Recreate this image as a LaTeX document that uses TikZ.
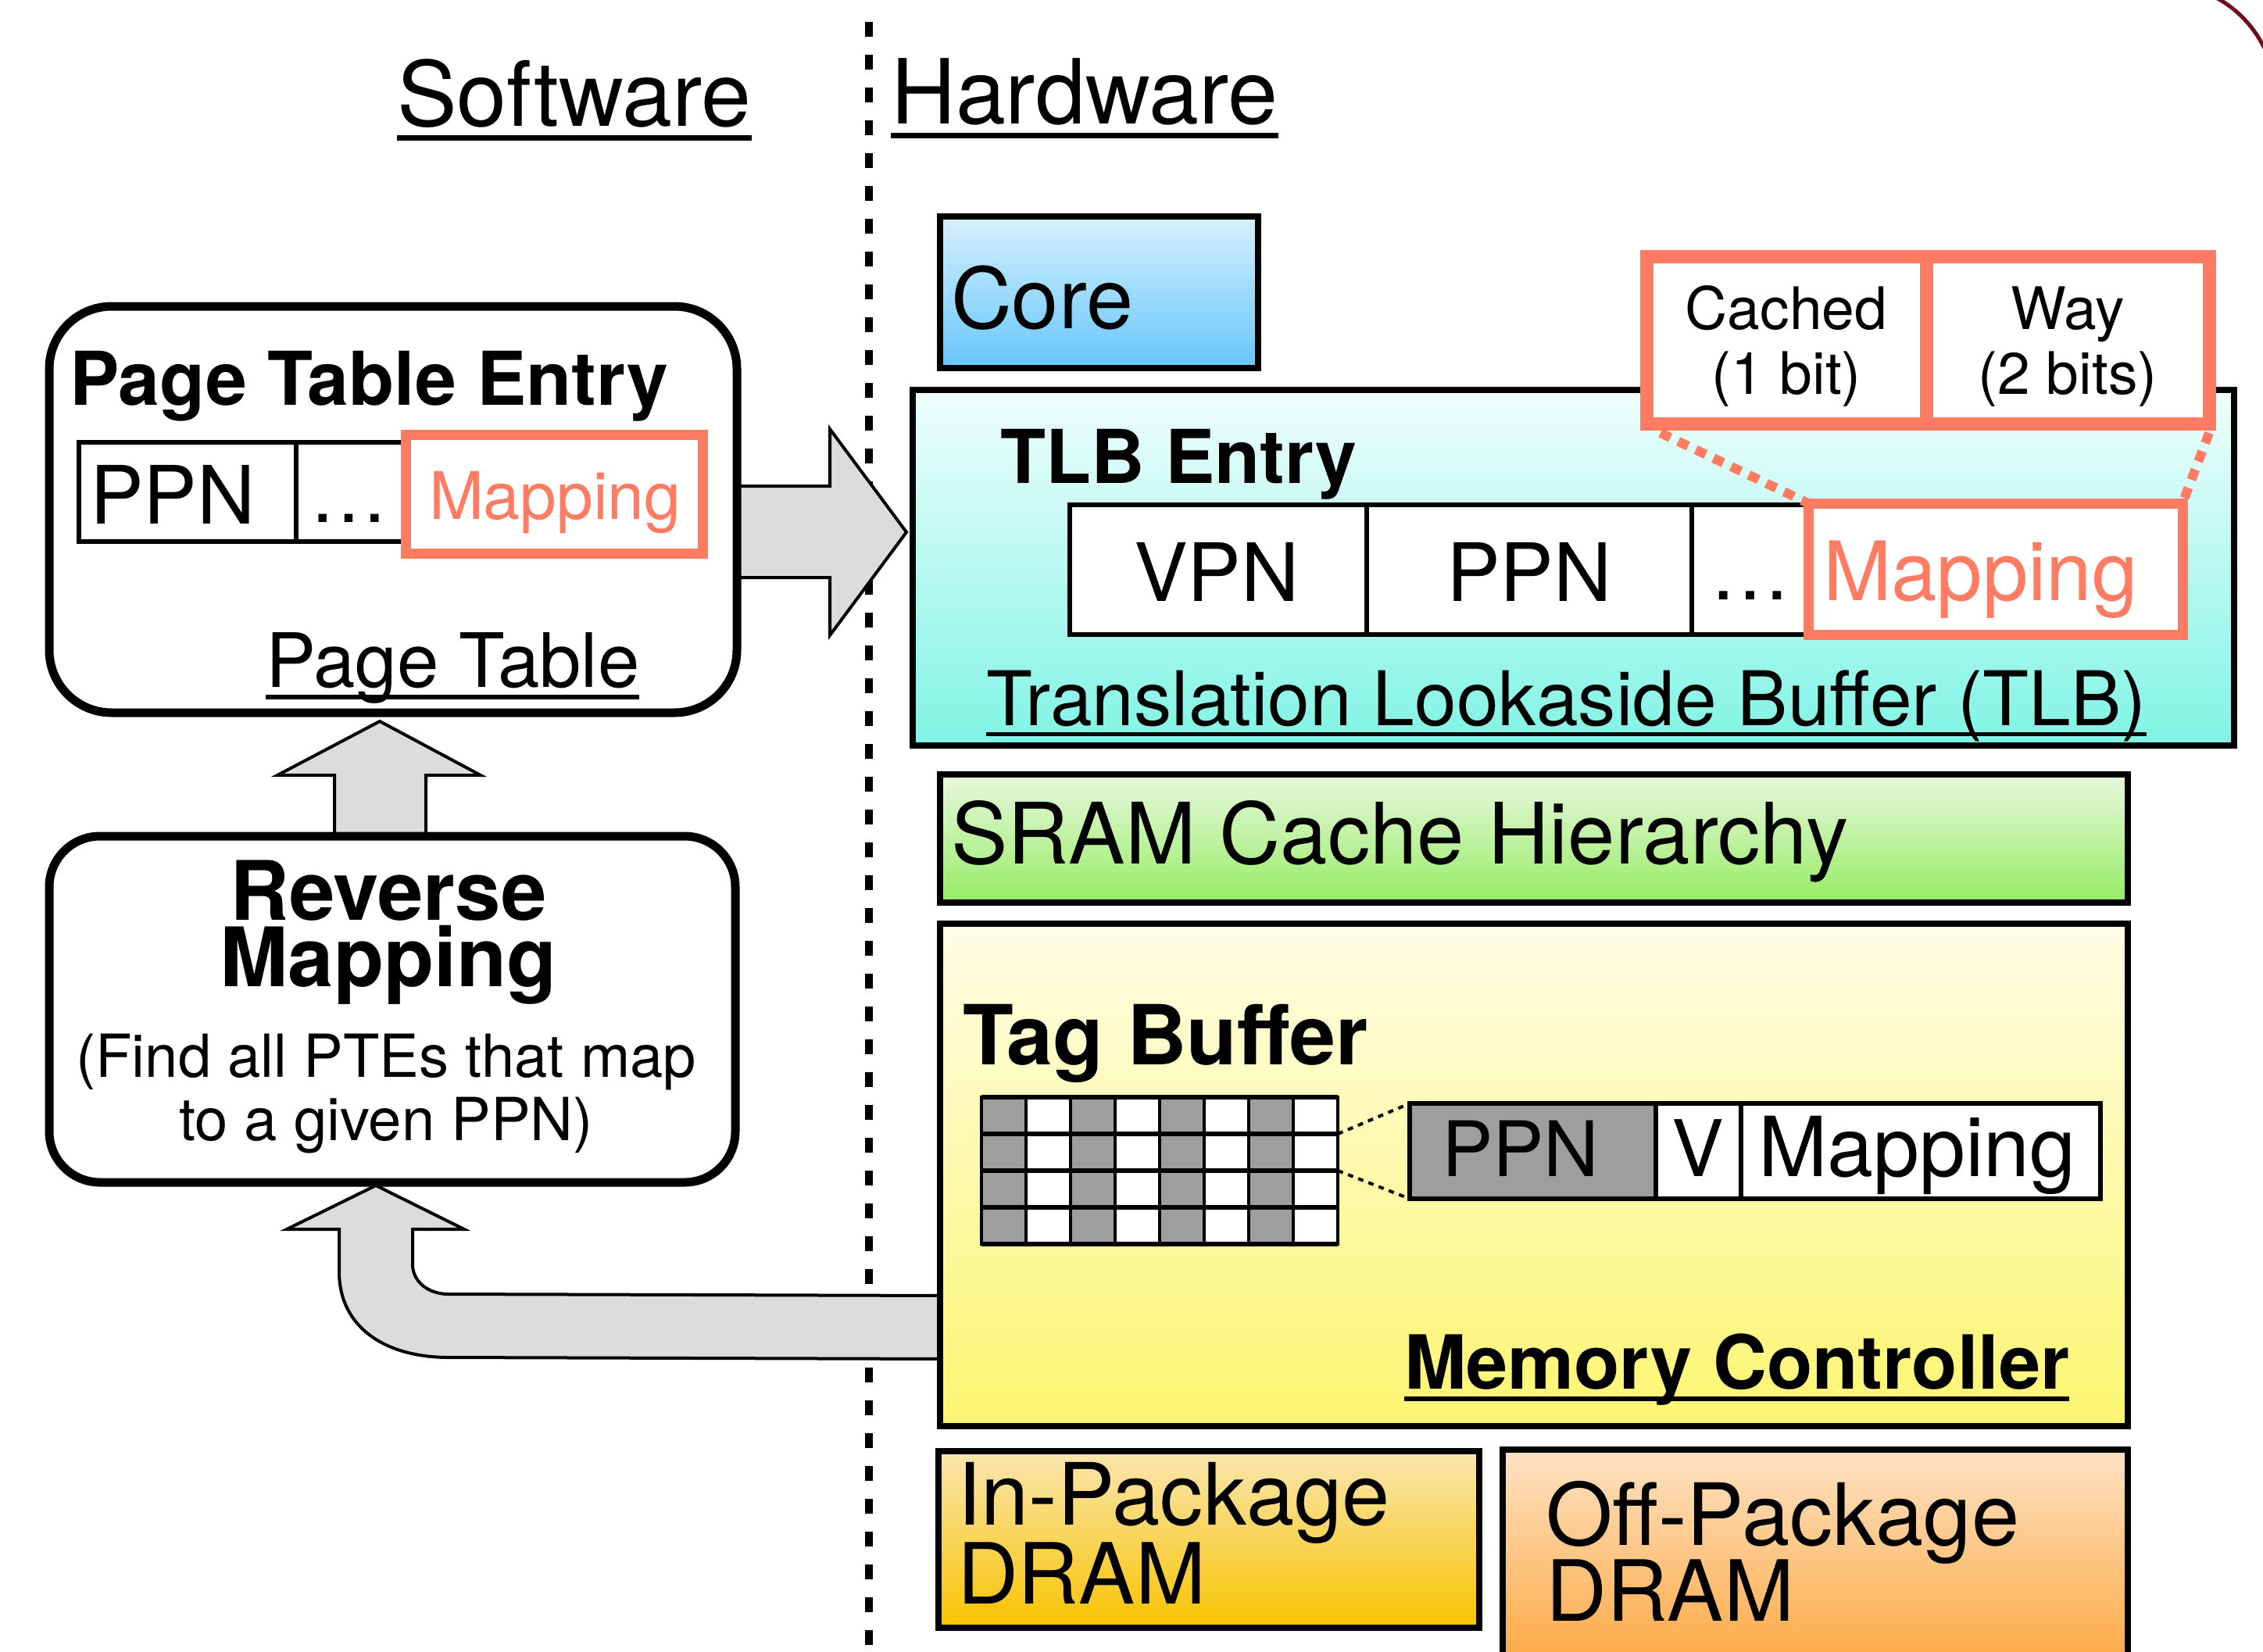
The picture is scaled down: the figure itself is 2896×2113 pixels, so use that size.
\documentclass[tikz,border=0pt]{standalone}
\usepackage{fontspec}
\setmainfont{TeX Gyre Heros}
\newcommand\myfs[1]{\fontsize{#1pt}{#1pt}\selectfont}
\definecolor{salmon}{RGB}{255,124,98}
\definecolor{arrowgray}{RGB}{220,220,220}
\definecolor{cellgray}{RGB}{158,158,158}
\definecolor{darkred}{RGB}{110,14,30}
\definecolor{coretop}{RGB}{214,240,253}
\definecolor{corebot}{RGB}{102,198,251}
\definecolor{tlbtop}{RGB}{240,254,252}
\definecolor{tlbbot}{RGB}{128,244,229}
\definecolor{sramtop}{RGB}{232,248,222}
\definecolor{srambot}{RGB}{150,236,100}
\definecolor{mctop}{RGB}{254,253,230}
\definecolor{mcbot}{RGB}{253,245,112}
\definecolor{intop}{RGB}{250,230,176}
\definecolor{inbot}{RGB}{248,195,0}
\definecolor{offtop}{RGB}{253,226,196}
\definecolor{offbot}{RGB}{253,165,58}
\tikzset{
  hwbox/.style={draw=black, line width=8pt, inner sep=0pt, outer sep=0pt, anchor=north west},
  rbox/.style={draw=black, line width=11pt, inner sep=0pt, outer sep=0pt, anchor=north west, fill=white},
  cellbox/.style={draw=black, line width=6pt, inner sep=0pt, outer sep=0pt, anchor=north west, fill=white},
  mapbox/.style={draw=salmon, line width=13pt, inner sep=0pt, outer sep=0pt, anchor=north west, fill=white},
  bitbox/.style={draw=salmon, line width=17pt, inner sep=0pt, outer sep=0pt, anchor=north west, fill=white},
  gcell/.style={draw=black, line width=4pt, inner sep=0pt, outer sep=0pt, anchor=north west, minimum width=57pt, minimum height=47pt},
  txt/.style={inner sep=0pt, outer sep=0pt, anchor=base west},
  txtc/.style={inner sep=0pt, outer sep=0pt, anchor=base},
  blockarrow/.style={fill=arrowgray, draw=black, line width=4pt, line join=miter},
  salmondots/.style={draw=salmon, line width=12pt, dash pattern=on 14pt off 11pt},
}
\begin{document}
\begin{tikzpicture}[x=1pt,y=-1pt]
\useasboundingbox (0,0) rectangle (2896,2113);

% software / hardware divider
\draw[line width=10pt, dash pattern=on 19pt off 23pt] (1112,28) -- (1112,2113);

% headings
\node[txt] (sw) at (508,161) {\myfs{115}Software};
\draw[line width=7pt] ([yshift=-15pt]sw.base west) -- ([yshift=-15pt]sw.base east);
\node[txt] (hw) at (1140,158) {\myfs{115}Hardware};
\draw[line width=7pt] ([yshift=-15pt]hw.base west) -- ([yshift=-15pt]hw.base east);

% block arrows (drawn first, boxes cover their ends)
\draw[blockarrow] (930,622) -- (1062,622) -- (1062,549) -- (1160,681) -- (1062,813) -- (1062,739) -- (930,739) -- cycle;
\draw[blockarrow] (428,1080) -- (428,992) -- (355,992) -- (486,923) -- (615,992) -- (545,992) -- (545,1080) -- cycle;
\draw[blockarrow] (434,1573) -- (434,1627) .. controls (434,1700) and (495,1737) .. (574,1737) -- (1215,1739) -- (1215,1658) -- (574,1656) .. controls (548,1656) and (528,1640) .. (528,1618) -- (528,1573) -- (594,1573) -- (481,1517) -- (367,1573) -- cycle;

% page table
\node[rbox, rounded corners=80pt, minimum width=880pt, minimum height=520pt] (pt) at (63,392) {};
\node[txt] (pte) at (89,518) {\myfs{95}\bfseries Page Table Entry};
\node[cellbox, minimum width=278pt, minimum height=127pt] (pteppn) at (101,566) {};
\node[cellbox, minimum width=150pt, minimum height=127pt] (ptedots) at (379,566) {};
\node[mapbox, minimum width=380pt, minimum height=152pt] (ptemap) at (519,556) {};
\node[txt] (pteppnt) at (115,670) {\myfs{103}PPN};
\node[txtc] (ptedotst) at (446,668) {\myfs{100}\ldots};
\node[txt, text=salmon] (ptemapt) at (549,664) {\myfs{84}Mapping};
\node[txt] (ptlabel) at (340,879) {\myfs{96}Page Table};
\draw[line width=6pt] ([yshift=-13pt]ptlabel.base west) -- ([yshift=-13pt]ptlabel.base east);

% reverse mapping
\node[rbox, rounded corners=65pt, minimum width=878pt, minimum height=443pt] (rm) at (63,1070) {};
\node[txtc] (rm1) at (497,1177) {\myfs{105}\bfseries Reverse};
\node[txtc] (rm2) at (497,1262) {\myfs{105}\bfseries Mapping};
\node[txtc] (rm3) at (494,1378) {\myfs{76}(Find all PTEs that map};
\node[txtc] (rm4) at (494,1459) {\myfs{76}to a given PPN)};

% core
\node[hwbox, top color=coretop, bottom color=corebot, minimum width=407pt, minimum height=194pt] (core) at (1203,277) {};
\node[txt] (coret) at (1217,420) {\myfs{108}Core};

% TLB
\node[hwbox, top color=tlbtop, bottom color=tlbbot, minimum width=1691pt, minimum height=455pt] (tlb) at (1168,499) {};
\node[txt] (tlbe) at (1280,618) {\myfs{95}\bfseries TLB Entry};
\node[cellbox, minimum width=380pt, minimum height=166pt] (tvpn) at (1369,646) {};
\node[cellbox, minimum width=416pt, minimum height=166pt] (tppn) at (1749,646) {};
\node[cellbox, minimum width=160pt, minimum height=166pt] (tdots) at (2165,646) {};
\node[mapbox, minimum width=479pt, minimum height=168pt] (tmap) at (2314,644) {};
\node[txtc] (tvpnt) at (1557,769) {\myfs{103}VPN};
\node[txtc] (tppnt) at (1957,769) {\myfs{103}PPN};
\node[txtc] (tdotst) at (2240,767) {\myfs{103}\ldots};
\node[txt, text=salmon] (tmapt) at (2333,768) {\myfs{105}Mapping};
\node[txt] (tlbl) at (1262,928) {\myfs{96.5}Translation Lookaside Buffer (TLB)};
\draw[line width=5pt] ([yshift=-11pt]tlbl.base west) -- ([yshift=-11pt]tlbl.base east);

% cached / way bits
\node[bitbox, minimum width=358pt, minimum height=214pt] (cach) at (2107,328) {};
\node[bitbox, minimum width=362pt, minimum height=214pt] (way) at (2465,328) {};
\node[txtc] (cach1) at (2286,421) {\myfs{75}Cached};
\node[txtc] (cach2) at (2286,504) {\myfs{75}(1 bit)};
\node[txtc] (way1) at (2646,421) {\myfs{75}Way};
\node[txtc] (way2) at (2646,504) {\myfs{75}(2 bits)};
\draw[salmondots] ([shift={(18,12)}]cach.south west) -- (tmap.north west);
\draw[salmondots] ([shift={(0,12)}]way.south east) -- (tmap.north east);

% SRAM
\node[hwbox, top color=sramtop, bottom color=srambot, minimum width=1520pt, minimum height=164pt] (sram) at (1203,991) {};
\node[txt] (sramt) at (1217,1105) {\myfs{108.5}SRAM Cache Hierarchy};

% memory controller
\node[hwbox, top color=mctop, bottom color=mcbot, minimum width=1520pt, minimum height=643pt] (mc) at (1203,1182) {};
\node[txt] (tagb) at (1232,1362) {\myfs{106}\bfseries Tag Buffer};
\foreach \r in {1,...,4}{
  \foreach \c in {1,...,8}{
    \ifodd\c\relax \def\fc{cellgray}\else\def\fc{white}\fi
    \node[gcell, fill=\fc] (g-\r-\c) at ({1256+(\c-1)*57},{1404+(\r-1)*47}) {};
  }
}
\foreach \r in {1,...,4}{
  \draw[line width=6pt] (g-\r-1.north west) -- (g-\r-8.north east);
}
\draw[line width=6pt] (g-4-1.south west) -- (g-4-8.south east);
\node[cellbox, fill=cellgray, minimum width=315pt, minimum height=122pt] (eppn) at (1804,1412) {};
\node[cellbox, minimum width=109pt, minimum height=122pt] (ev) at (2119,1412) {};
\node[cellbox, minimum width=460pt, minimum height=122pt] (emap) at (2228,1412) {};
\node[txt] (eppnt) at (1845,1505) {\myfs{98}PPN};
\node[txtc] (evt) at (2173,1505) {\myfs{100}V};
\node[txt] (emapt) at (2250,1505) {\myfs{106}Mapping};
\draw[line width=4pt, dash pattern=on 7pt off 7pt] (g-2-8.north east) -- (eppn.north west);
\draw[line width=4pt, dash pattern=on 7pt off 7pt] (g-2-8.south east) -- (eppn.south west);
\node[txt] (mct) at (1797,1777) {\myfs{95.5}\bfseries Memory Controller};
\draw[line width=6pt] ([yshift=-13pt]mct.base west) -- ([yshift=-13pt]mct.base east);

% DRAM
\node[hwbox, top color=intop, bottom color=inbot, minimum width=692pt, minimum height=226pt] (indram) at (1201,1857) {};
\node[txt] (in1) at (1225,1951) {\myfs{110}In-Package};
\node[txt] (in2) at (1225,2052) {\myfs{108}DRAM};
\node[hwbox, top color=offtop, bottom color=offbot, minimum width=800pt, minimum height=295pt] (offdram) at (1923,1855) {};
\node[txt] (off1) at (1978,1977) {\myfs{110}Off-Package};
\node[txt] (off2) at (1978,2074) {\myfs{108}DRAM};

% frame corner at top right
\draw[darkred, line width=5pt] (2836,-3) .. controls (2864,12) and (2885,35) .. (2899,64);
\end{tikzpicture}
\end{document}
